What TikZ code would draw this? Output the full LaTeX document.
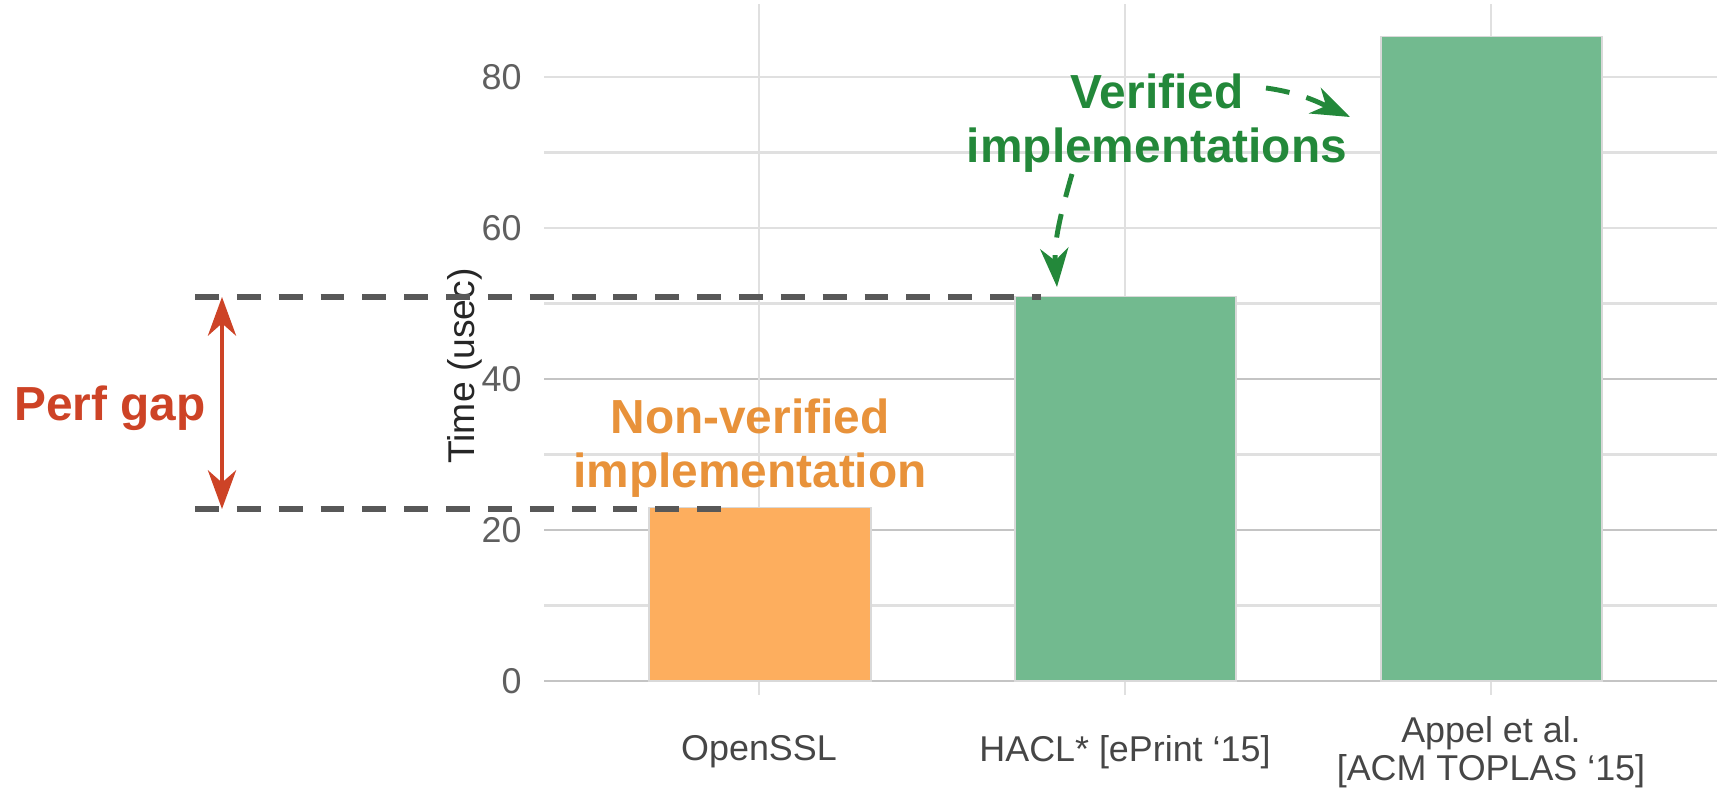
\documentclass[tikz,border=0pt]{standalone}
\usepackage{fontspec}
\setmainfont{Liberation Sans}
\usetikzlibrary{arrows.meta,positioning,calc}
\definecolor{barorange}{RGB}{253,174,94}
\definecolor{bargreen}{RGB}{114,186,143}
\definecolor{gapred}{RGB}{205,67,38}
\definecolor{txtorange}{RGB}{232,146,58}
\definecolor{txtgreen}{RGB}{35,136,58}
\definecolor{gridmaj}{RGB}{196,196,196}
\definecolor{gridmin}{RGB}{224,224,224}
\definecolor{dashgray}{RGB}{88,88,88}
\definecolor{ticktxt}{RGB}{95,95,95}
\definecolor{labtxt}{RGB}{70,70,70}

\begin{document}
\begin{tikzpicture}[x=0.01cm, y=0.01cm,
    major/.style={draw=gridmaj, line width=0.75pt},
    minor/.style={draw=gridmin, line width=0.65pt},
    bar/.style={draw=gray!30, line width=0.4pt},
    tick/.style={anchor=east, text=ticktxt, font=\fontsize{10.2}{12}\selectfont},
    xlab/.style={text=labtxt, align=center, font=\fontsize{10.2}{10.8}\selectfont},
    note/.style={align=center, font=\fontsize{13.6}{15.5}\selectfont\bfseries},
    level/.style={draw=dashgray, line width=1.45pt, dash pattern=on 6.8pt off 5.1pt},
    hint/.style={draw=txtgreen, line width=1.4pt, dash pattern=on 6.8pt off 5pt,
      -{Stealth[length=11pt, width=8pt, inset=3.5pt]}}]
  \useasboundingbox (0,0) rectangle (1717,794);

  % grid
  \foreach \v in {10,30,50,60,70,80}
    \draw[minor] (544,113+7.55*\v) -- (1717,113+7.55*\v);
  \foreach \v in {0,20,40}
    \draw[major] (544,113+7.55*\v) -- (1717,113+7.55*\v);
  \foreach \v in {0,20,40,60,80}
    \node[tick] (t\v) at (534,113+7.55*\v) {\v};
  \foreach \c in {759,1125,1491}
    \draw[minor] (\c,99) -- (\c,790);

  % bars
  \draw[bar, fill=barorange] (649,113) rectangle (871,113+7.55*23);
  \draw[bar, fill=bargreen] (1015,113) rectangle (1236,113+7.55*50.9);
  \draw[bar, fill=bargreen] (1381,113) rectangle (1602,113+7.55*85.4);

  % axis texts
  \node[rotate=90, text=black!85, font=\fontsize{10.6}{12}\selectfont] (ytitle) at (465,428) {Time (usec)};
  \node[xlab] (l1) at (759,42) {OpenSSL};
  \node[xlab] (l2) at (1125,42) {HACL* [ePrint ‘15]};
  \node[xlab] (l3) at (1491,42) {Appel et al.\\{}[ACM TOPLAS ‘15]};

  % perf gap
  \coordinate (hiL) at (195,497);
  \coordinate (hiR) at (1041,497);
  \coordinate (loL) at (195,285);
  \coordinate (loR) at (723,285);
  \draw[level] (hiL) -- (hiR);
  \draw[level] (loL) -- (loR);
  \coordinate (gapT) at ($(hiL)+(27,0)$);
  \coordinate (gapB) at ($(loL)+(27,0)$);
  \draw[gapred, line width=1.15pt,
    {Stealth[length=11pt, width=8pt, inset=3.5pt]}-{Stealth[length=11pt, width=8pt, inset=3.5pt]}]
    (gapT) -- (gapB);
  \node[note, text=gapred, anchor=base] (gap) at (110,373) {Perf gap};

  % annotations
  \node[note, text=txtorange] (nonver) at (750,346) {Non-verified\\implementation};
  \node[note, text=txtgreen] (ver) at (1157,671) {Verified\\implementations};
  \coordinate (vA) at (1266,706);
  \coordinate (vAend) at (1350,677);
  \coordinate (vB) at (1072,620);
  \coordinate (vBend) at (1057,507);
  \draw[hint] (vA) to[out=-8, in=155] (vAend);
  \draw[hint] (vB) to[out=-106, in=94] (vBend);
\end{tikzpicture}
\end{document}
